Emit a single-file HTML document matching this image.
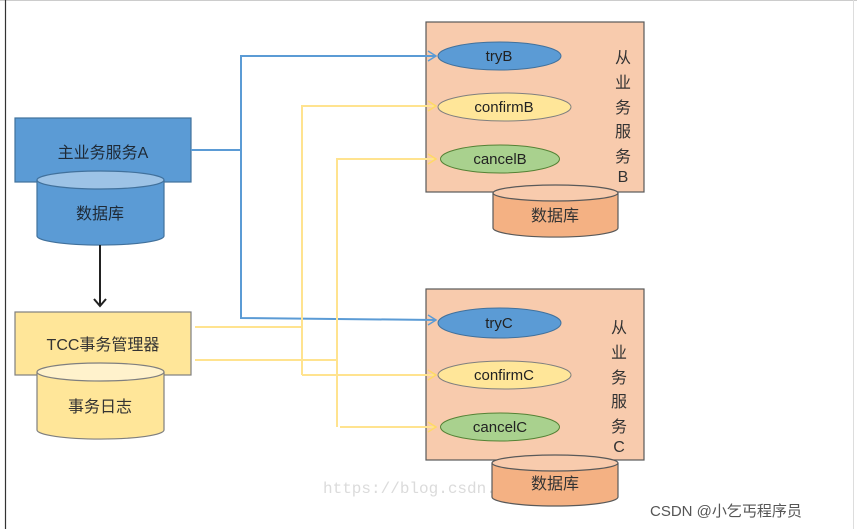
<!DOCTYPE html>
<html><head><meta charset="utf-8"><style>
html,body{margin:0;padding:0;background:#fff;}
svg{display:block;}
</style></head><body>
<svg width="857" height="529" viewBox="0 0 857 529" xmlns="http://www.w3.org/2000/svg" font-family="Liberation Sans, Noto Sans CJK SC, sans-serif">
<rect x="0" y="0" width="857" height="529" fill="#fff"/>
<line x1="0" y1="0.5" x2="857" y2="0.5" stroke="#ccc"/>
<line x1="5.5" y1="0" x2="5.5" y2="529" stroke="#333" stroke-width="1.2"/>
<line x1="853.5" y1="0" x2="853.5" y2="529" stroke="#ddd"/>

<text x="323" y="493" font-size="16" fill="#ccc" fill-opacity="0.7" font-family="Liberation Mono, monospace">https://blog.csdn.net/u_6666</text>

<!-- A -->
<rect x="15" y="118" width="176" height="64" fill="#5b9bd5" stroke="#41719c" stroke-width="1.2"/>
<text x="103" y="158" font-size="16" text-anchor="middle" fill="#1f2a36">主业务服务A</text>
<path d="M37,180 L37,236 A63,9 0 0 0 164,236 L164,180" fill="#5b9bd5" stroke="#41719c" stroke-width="1.2"/>
<ellipse cx="100.5" cy="180" rx="63.5" ry="9" fill="#9dc3e6" stroke="#41719c" stroke-width="1.2"/>
<text x="100" y="219" font-size="16" text-anchor="middle" fill="#1f2a36">数据库</text>

<!-- TCC -->
<rect x="15" y="312" width="176" height="63" fill="#ffe699" stroke="#7f7f7f" stroke-width="1.2"/>
<text x="103" y="350" font-size="16" text-anchor="middle" fill="#333">TCC事务管理器</text>
<path d="M37,372 L37,430 A63,9 0 0 0 164,430 L164,372" fill="#ffe699" stroke="#7f7f7f" stroke-width="1.2"/>
<ellipse cx="100.5" cy="372" rx="63.5" ry="9" fill="#fff2cc" stroke="#7f7f7f" stroke-width="1.2"/>
<text x="100" y="412" font-size="16" text-anchor="middle" fill="#333">事务日志</text>

<!-- B box -->
<rect x="426" y="22" width="218" height="170" fill="#f8cbad" stroke="#595959" stroke-width="1.2"/>
<g font-size="16" text-anchor="middle" fill="#333">
<text x="623" y="63">从</text><text x="623" y="88">业</text><text x="623" y="113">务</text><text x="623" y="137">服</text><text x="623" y="162">务</text><text x="623" y="182">B</text>
</g>
<path d="M493,193 L493,228 A62,9 0 0 0 618,228 L618,193" fill="#f4b183" stroke="#595959" stroke-width="1.2"/>
<ellipse cx="555.5" cy="193" rx="62.5" ry="8" fill="#f8cbad" stroke="#595959" stroke-width="1.2"/>
<text x="555" y="221" font-size="16" text-anchor="middle" fill="#333">数据库</text>

<!-- C box -->
<rect x="426" y="289" width="218" height="171" fill="#f8cbad" stroke="#595959" stroke-width="1.2"/>
<g font-size="16" text-anchor="middle" fill="#333">
<text x="619" y="333">从</text><text x="619" y="358">业</text><text x="619" y="383">务</text><text x="619" y="407">服</text><text x="619" y="432">务</text><text x="619" y="452">C</text>
</g>
<path d="M492,463 L492,497 A63,9 0 0 0 618,497 L618,463" fill="#f4b183" stroke="#595959" stroke-width="1.2"/>
<ellipse cx="555" cy="463" rx="63" ry="8" fill="#f8cbad" stroke="#595959" stroke-width="1.2"/>
<text x="555" y="489" font-size="16" text-anchor="middle" fill="#333">数据库</text>

<!-- connectors -->
<g fill="none" stroke-width="2">
<polyline points="191,150 241,150 241,56 436,56" stroke="#5b9bd5"/>
<polyline points="241,150 241,318 436,320" stroke="#5b9bd5"/>
<polyline points="428,51 436,56 428,61" stroke="#5b9bd5" stroke-width="1.5"/>
<polyline points="428,315 436,320 428,325" stroke="#5b9bd5" stroke-width="1.5"/>
<polyline points="195,327 302,327" stroke="#ffe38f"/>
<polyline points="195,360 337,360" stroke="#ffe38f"/>
<polyline points="302,375 302,106 436,106" stroke="#ffe38f"/>
<polyline points="302,375 436,375" stroke="#ffe38f"/>
<polyline points="337,427 337,159 436,159" stroke="#ffe38f"/>
<polyline points="340,427 436,427" stroke="#ffe38f"/>
<g stroke="#ffd966" stroke-width="1.5">
<polyline points="428,101 436,106 428,111"/>
<polyline points="428,154 436,159 428,164"/>
<polyline points="428,370 436,375 428,380"/>
<polyline points="428,422 436,427 428,432"/>
</g>
<line x1="100" y1="245" x2="100" y2="306" stroke="#222"/>
<polyline points="94,299 100,306 106,299" stroke="#222"/>
</g>

<!-- ellipses -->
<ellipse cx="499.5" cy="56" rx="61.5" ry="14" fill="#5b9bd5" stroke="#41719c"/>
<text x="499" y="61" font-size="15" text-anchor="middle" fill="#222">tryB</text>
<ellipse cx="504.5" cy="107" rx="66.5" ry="14" fill="#ffe699" stroke="#7f7f7f"/>
<text x="504" y="112" font-size="15" text-anchor="middle" fill="#222">confirmB</text>
<ellipse cx="500" cy="159" rx="59.5" ry="14" fill="#a9d18e" stroke="#548235"/>
<text x="500" y="164" font-size="15" text-anchor="middle" fill="#222">cancelB</text>
<ellipse cx="499.5" cy="323" rx="61.5" ry="15" fill="#5b9bd5" stroke="#41719c"/>
<text x="499" y="328" font-size="15" text-anchor="middle" fill="#222">tryC</text>
<ellipse cx="504.5" cy="375" rx="66.5" ry="14" fill="#ffe699" stroke="#7f7f7f"/>
<text x="504" y="380" font-size="15" text-anchor="middle" fill="#222">confirmC</text>
<ellipse cx="500" cy="427" rx="59.5" ry="14" fill="#a9d18e" stroke="#548235"/>
<text x="500" y="432" font-size="15" text-anchor="middle" fill="#222">cancelC</text>

<text x="650" y="516" font-size="15" fill="#555">CSDN @小乞丐程序员</text>
</svg>
</body></html>
